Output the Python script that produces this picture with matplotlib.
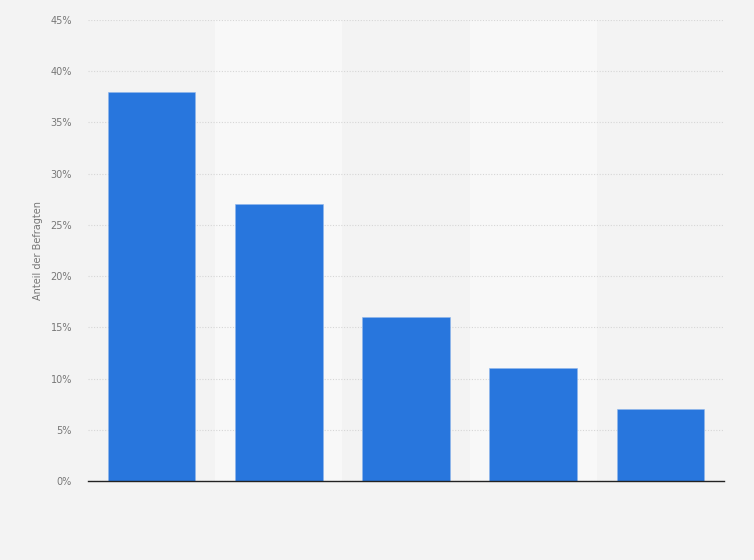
import matplotlib.pyplot as plt
import numpy as np

# data
categories = ["A", "B", "C", "D", "E"]
values = [38, 27, 16, 11, 7]
y_ticks = [0, 5, 10, 15, 20, 25, 30, 35, 40, 45]

bg = "#f3f3f3"
band = "#f8f8f8"
bar_color = "#2876dd"

fig = plt.figure(figsize=(7.54, 5.6), dpi=100, facecolor=bg)
ax = fig.add_axes([88 / 754, 79 / 560, 636 / 754, 461 / 560])
ax.set_facecolor(bg)

x = np.arange(len(categories))
# alternating column bands
for i in x:
    if i % 2 == 1:
        ax.axvspan(i - 0.5, i + 0.5, color=band, zorder=0, lw=0)

ax.bar(x, values, width=0.69, color=bar_color, zorder=3,
       edgecolor="#8fb6ec", linewidth=0.4)

ax.set_xlim(-0.5, len(categories) - 0.5)
ax.set_ylim(0, 45)
ax.set_yticks(y_ticks)
ax.set_yticklabels([f"{t}%" for t in y_ticks], fontsize=7, color="#777777")
ax.set_xticks([])
ax.tick_params(axis="y", length=0, pad=11.5)
ax.grid(axis="y", color="#d6d6d6", linestyle=(0, (1, 1.5)), linewidth=0.8, zorder=1)

for s in ["top", "right", "left"]:
    ax.spines[s].set_visible(False)
ax.spines["bottom"].set_color("#222222")
ax.spines["bottom"].set_linewidth(1)
ax.spines["bottom"].set_zorder(4)

ax.set_ylabel("Anteil der Befragten", fontsize=7, color="#777777", labelpad=5)

plt.savefig("out.png", dpi=100, facecolor=bg)
